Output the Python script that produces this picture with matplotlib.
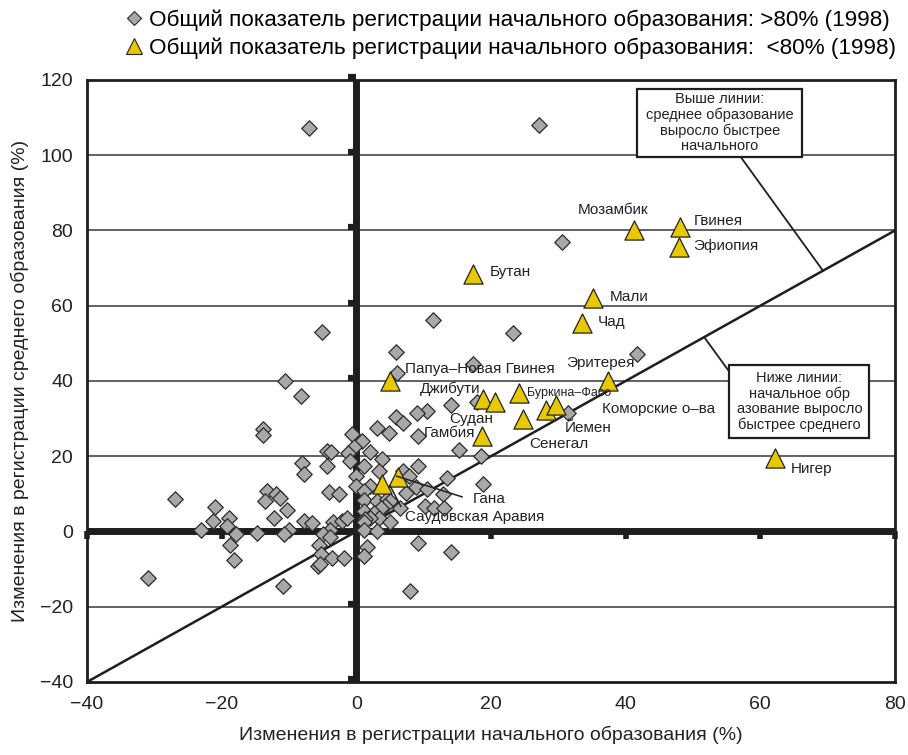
import matplotlib
matplotlib.use('Agg')
import matplotlib.pyplot as plt
from matplotlib.lines import Line2D
from matplotlib.patches import Rectangle

plt.rcParams['font.family'] = ['Liberation Sans', 'DejaVu Sans']

# страны с охватом начальным образованием >80% (серые ромбы)
GRAY_X = [-7.1, 27.1, 30.6, 11.4, 23.3, -5.1, 5.9, 41.7, 17.4, 6.0,
          -10.6, -8.2, 17.9, 14.1, 10.5, 9.0, 31.4, 5.9, 6.9, 3.1,
          -13.9, 4.8, -13.8, -0.6, 9.1, 0.8, -0.3, 15.3, -4.4, -3.7,
          -1.2, 2.1, 18.5, 3.8, -0.9, -8.1, 1.1, -4.4, 9.1, 3.4,
          7.0, 7.8, -7.7, -0.1, 13.5, 18.8, -0.1, 8.9, 10.5, 2.1,
          1.1, -13.2, -4.0, -2.6, -12.0, -11.4, 7.4, 12.8, -27.0, 1.1,
          -13.5, 3.1, 4.5, 5.0, 4.2, 3.6, 6.5, 10.2, 11.5, 13.0,
          -21.0, -10.3, 1.1, 2.6, 3.4, 2.1, 1.3, -12.3, -18.9, -21.3,
          -7.8, -6.6, -3.4, -2.1, -1.4, 5.0, 1.1, -19.2, -23.0, -10.0,
          1.1, 3.1, -3.9, -17.8, -14.7, -10.7, -4.9, -3.9, -5.5, -18.7,
          9.1, 1.6, -5.2, 14.0, -18.2, -3.6, -1.9, 1.1, -5.7, -5.4,
          -31.0, -10.9, 8.0]
GRAY_Y = [107.2, 108.1, 76.9, 56.2, 52.8, 52.9, 47.6, 47.1, 44.6, 42.0,
          39.9, 36.1, 34.3, 33.5, 32.0, 31.4, 31.6, 30.5, 28.9, 27.6,
          27.3, 26.3, 25.6, 25.8, 25.4, 24.0, 22.4, 21.6, 21.4, 21.0,
          20.9, 21.0, 20.0, 19.2, 18.8, 18.3, 17.4, 17.4, 17.4, 16.2,
          16.1, 14.7, 15.4, 14.8, 14.3, 12.7, 12.1, 11.9, 11.2, 12.0,
          10.7, 10.8, 10.6, 9.9, 9.9, 8.8, 10.3, 9.9, 8.5, 8.3,
          8.1, 8.1, 8.5, 8.1, 6.8, 6.3, 6.3, 6.9, 6.3, 6.3,
          6.6, 5.6, 5.4, 4.8, 3.6, 3.6, 3.2, 3.5, 3.5, 2.8,
          2.9, 2.2, 2.5, 2.9, 3.5, 2.5, 2.5, 1.4, 0.4, 0.4,
          0.5, 0.0, 0.5, -0.8, -0.4, -0.6, -0.8, -1.4, -3.5, -3.6,
          -3.0, -4.2, -5.9, -5.5, -7.5, -7.0, -7.0, -6.6, -9.1, -8.6,
          -12.3, -14.4, -15.9]

# страны с охватом <80% (жёлтые треугольники)
COUNTRIES = ['Мозамбик', 'Гвинея', 'Эфиопия', 'Бутан', 'Мали', 'Чад',
             'Папуа–Новая Гвинея', 'Эритерея', 'Буркина–Фасо', 'Джибути',
             'Судан', 'Сенегал', 'Йемен', 'Коморские о–ва', 'Гамбия',
             'Нигер', 'Саудовская Аравия', 'Гана']
YELLOW_X = [41.3, 48.0, 47.9, 17.3, 35.2, 33.5, 5.0, 37.4, 24.1, 18.8,
            20.6, 24.8, 28.2, 29.6, 18.7, 62.2, 3.8, 6.2]
YELLOW_Y = [80.2, 80.8, 75.7, 68.4, 62.0, 55.4, 39.9, 40.0, 36.9, 35.3,
            34.3, 29.8, 32.3, 33.5, 25.4, 19.4, 12.5, 14.6]

X_TICKS = [-40, -20, 0, 20, 40, 60, 80]
Y_TICKS = [-40, -20, 0, 20, 40, 60, 80, 100, 120]

INK = '#1e1e1e'

fig = plt.figure(figsize=(9.08, 7.55), dpi=100)
ax = fig.add_axes([0.0958, 0.0967, 0.8899, 0.7974])
ax.set_xlim(-40, 80)
ax.set_ylim(-40, 120)

for y in Y_TICKS[1:-1]:
    ax.axhline(y, color='#555555', lw=1.3, zorder=1)

# жирные оси через ноль и засечки на них
ax.axhline(0, color=INK, lw=5.0, zorder=2)
ax.axvline(0, color=INK, lw=5.0, zorder=2)
for x in X_TICKS:
    if x != 0:
        ax.plot([x, x], [0, -1.9], color=INK, lw=4.0,
                solid_capstyle='butt', zorder=2, clip_on=False)
for y in Y_TICKS:
    if y != 0:
        ax.plot([-1.2, 0], [y + 0.8, y + 0.8], color=INK, lw=4.5,
                solid_capstyle='butt', zorder=2, clip_on=False)

# линия равного роста
ax.plot([-40, 80], [-40, 80], color=INK, lw=1.8, zorder=3)

ax.scatter(GRAY_X, GRAY_Y, marker='D', s=62, facecolor='#a8a8a8',
           edgecolor='#2b2b2b', linewidth=0.9, zorder=4)
ax.scatter(YELLOW_X, YELLOW_Y, marker='^', s=190, facecolor='#e8c800',
           edgecolor='#222222', linewidth=0.9, zorder=5)

# подписи стран: (x, y, ha, fontsize)
label_pos = {
    'Мозамбик': (38.2, 85.4, 'center', 11),
    'Гвинея': (50.1, 82.6, 'left', 11),
    'Эфиопия': (50.1, 76.0, 'left', 11),
    'Бутан': (19.8, 68.9, 'left', 11),
    'Мали': (37.6, 62.2, 'left', 11),
    'Чад': (35.9, 55.7, 'left', 11),
    'Папуа–Новая Гвинея': (7.2, 43.1, 'left', 11),
    'Эритерея': (31.1, 44.9, 'left', 11),
    'Буркина–Фасо': (25.3, 36.7, 'left', 9),
    'Джибути': (9.5, 38.0, 'left', 11),
    'Судан': (20.4, 30.0, 'right', 11),
    'Сенегал': (25.7, 23.2, 'left', 11),
    'Йемен': (30.9, 27.6, 'left', 11),
    'Коморские о–ва': (36.5, 32.5, 'left', 11),
    'Гамбия': (10.0, 26.3, 'left', 11),
    'Нигер': (64.5, 16.5, 'left', 11),
    'Саудовская Аравия': (7.3, 3.8, 'left', 11),
    'Гана': (17.3, 8.5, 'left', 11),
}
for name in COUNTRIES:
    lx, ly, ha, fs = label_pos[name]
    ax.text(lx, ly, name, ha=ha, va='center', fontsize=fs, color='#222222',
            zorder=6)

ax.plot([6.0, 15.7], [14.7, 9.2], color='#222222', lw=1.1, zorder=6)
ax.plot([5.0, 6.6], [12.2, 6.7], color='#222222', lw=1.1, zorder=6)

# поясняющие рамки с выносками
ax.add_patch(Rectangle((41.7, 99.5), 24.5, 18.2, facecolor='white',
                       edgecolor=INK, lw=1.6, zorder=7))
ax.text(54.0, 108.6, 'Выше линии:\nсреднее образование\nвыросло быстрее\nначального',
        ha='center', va='center', fontsize=10.5, linespacing=1.12,
        color='#222222', zorder=8)
ax.plot([57.1, 69.3], [99.5, 69.3], color=INK, lw=1.3, zorder=6)

ax.add_patch(Rectangle((55.3, 24.8), 20.9, 19.4, facecolor='white',
                       edgecolor=INK, lw=1.6, zorder=7))
ax.text(65.8, 34.5, 'Ниже линии:\nначальное обр\nазование выросло\nбыстрее среднего',
        ha='center', va='center', fontsize=10.5, linespacing=1.12,
        color='#222222', zorder=8)
ax.plot([55.3, 51.8], [42.7, 51.3], color=INK, lw=1.3, zorder=6)

ax.set_xticks(X_TICKS)
ax.set_yticks(Y_TICKS)
ax.tick_params(length=0, labelsize=14, pad=10, colors='#222222')
for side in ax.spines.values():
    side.set_linewidth(2.0)
    side.set_color(INK)

ax.set_xlabel('Изменения в регистрации начального образования (%)',
              fontsize=14, labelpad=9, color='#222222')
ax.set_ylabel('Изменения в регистрации среднего образования (%)',
              fontsize=14, labelpad=8, color='#222222')

handles = [
    Line2D([], [], ls='none', marker='D', ms=7, mfc='#a8a8a8', mec='#2b2b2b', mew=0.8),
    Line2D([], [], ls='none', marker='^', ms=11, mfc='#e8c800', mec='#222222', mew=0.8),
]
labels = ['Общий показатель регистрации начального образования: >80% (1998)',
          'Общий показатель регистрации начального образования:  <80% (1998)']
fig.legend(handles, labels, loc='upper left', bbox_to_anchor=(0.1377, 0.988),
           frameon=False, fontsize=16.2, handlelength=0.8, handletextpad=0.25,
           labelspacing=0.3, borderaxespad=0, borderpad=0)

fig.savefig('out.png', dpi=100)
